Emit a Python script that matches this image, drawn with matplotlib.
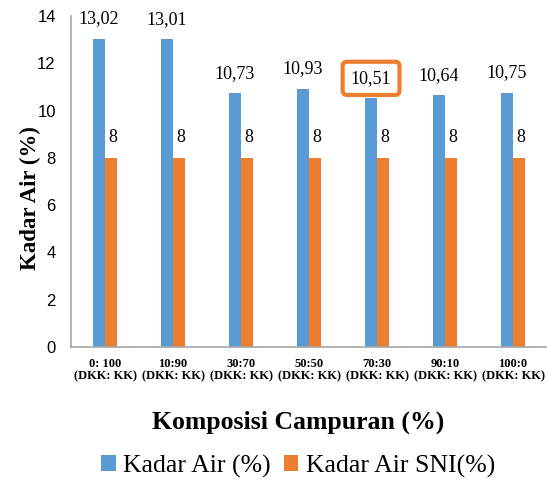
import matplotlib
matplotlib.use("Agg")
import matplotlib.pyplot as plt
import numpy as np

categories = ["0: 100\n(DKK: KK)", "10:90\n(DKK: KK)", "30:70\n(DKK: KK)", "50:50\n(DKK: KK)",
              "70:30\n(DKK: KK)", "90:10\n(DKK: KK)", "100:0\n(DKK: KK)"]
kadar_air = [13.02, 13.01, 10.73, 10.93, 10.51, 10.64, 10.75]
kadar_sni = [8, 8, 8, 8, 8, 8, 8]
series_names = ["Kadar Air (%)", "Kadar Air SNI(%)"]
blue = "#5B9BD5"
orange = "#ED7D31"

fig = plt.figure(figsize=(5.47, 4.83), dpi=100)
ax = fig.add_axes([0.130, 0.2816, 0.870, 0.6854])
x = np.arange(len(categories))
w = 0.176
b1 = ax.bar(x - w/2, kadar_air, w, color=blue, label=series_names[0])
b2 = ax.bar(x + w/2, kadar_sni, w, color=orange, label=series_names[1])

off = 0.85
for i, v in enumerate(kadar_air):
    s = f"{v:.2f}".replace(".", ",")
    if i == 4:
        ax.text(x[i] - w/2, v + off, s, ha="center", va="center", fontsize=13,
                family="Liberation Serif",
                bbox=dict(boxstyle="round,pad=0.45,rounding_size=0.25", fc="white", ec=orange, lw=3))
    else:
        ax.text(x[i] - w/2, v + off, s, ha="center", va="center", fontsize=13,
                family="Liberation Serif", clip_on=False)
for i, v in enumerate(kadar_sni):
    ax.text(x[i] + w/2 + 0.02, v + off, f"{v}", ha="center", va="center", fontsize=13,
            family="Liberation Serif")

ax.set_xlim(-0.5, len(categories) - 0.5)
ax.set_ylim(0, 14)
ax.set_yticks(range(0, 15, 2))
ax.set_xticks(x)
ax.set_xticklabels(categories, family="Liberation Serif", fontweight="bold", fontsize=9,
                   linespacing=1.0)
for lab in ax.get_yticklabels():
    lab.set_family("Liberation Sans")
    lab.set_fontsize(12)
ax.tick_params(axis="y", length=0, pad=11)
ax.tick_params(axis="x", length=0, pad=8)
for s in ["top", "right"]:
    ax.spines[s].set_visible(False)
for s in ["left", "bottom"]:
    ax.spines[s].set_color("#A6A6A6")
    ax.spines[s].set_linewidth(1.2)

fig.text(0.055, 0.59, "Kadar Air (%)", rotation=90, ha="center", va="center",
         family="Liberation Serif", fontweight="bold", fontsize=16.5)
fig.text(0.545, 0.126, "Komposisi Campuran (%)", ha="center", va="center",
         family="Liberation Serif", fontweight="bold", fontsize=18.5)
leg = fig.legend(handles=[b1, b2], labels=series_names, loc="center", bbox_to_anchor=(0.545, 0.035),
                 ncol=2, frameon=False, prop={"family": "Liberation Serif", "size": 18.5},
                 handlelength=0.55, handleheight=0.55, handletextpad=0.3, columnspacing=0.5)
fig.savefig("out.png", dpi=100)
